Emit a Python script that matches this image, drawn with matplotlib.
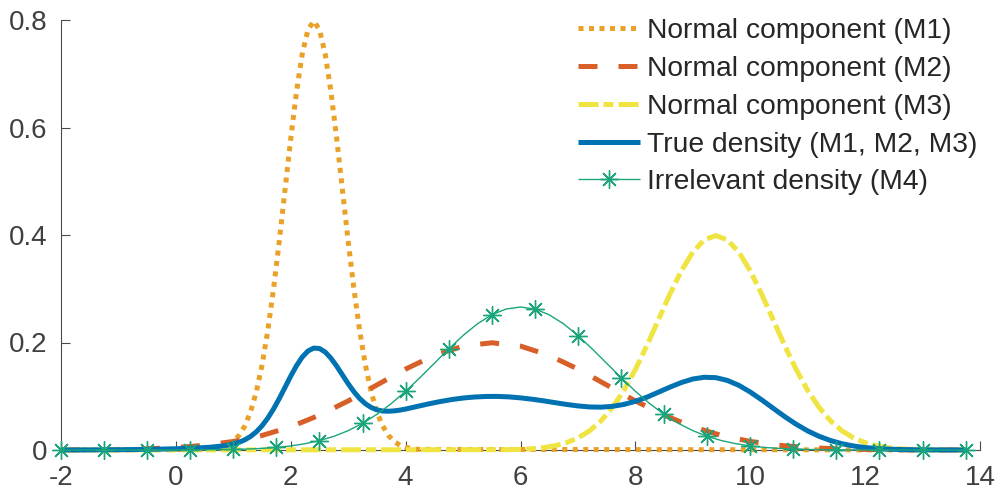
import matplotlib
matplotlib.use("Agg")
import matplotlib.pyplot as plt

# ── Data (density values) ────────────────────────────────────────────────────
# M1: narrow normal component
m1_x = [-2.0, 0.6, 0.8, 0.9, 1.0, 1.1, 1.2, 1.3, 1.4, 1.5, 1.6, 1.7, 1.8, 1.9,
        2.0, 2.1, 2.2, 2.3, 2.4, 2.5, 2.6, 2.7, 2.8, 2.9, 3.0, 3.1, 3.2, 3.3,
        3.4, 3.5, 3.6, 3.7, 3.8, 3.9, 4.0, 4.2, 13.75]
m1_y = [0.0, 0.0012, 0.0048, 0.0089, 0.0158, 0.0272, 0.0448, 0.0709, 0.1080,
        0.1579, 0.2218, 0.2995, 0.3884, 0.4839, 0.5794, 0.6665, 0.7365, 0.7821,
        0.7979, 0.7821, 0.7365, 0.6665, 0.5794, 0.4839, 0.3884, 0.2995, 0.2218,
        0.1579, 0.1080, 0.0709, 0.0448, 0.0272, 0.0158, 0.0089, 0.0048, 0.0012,
        0.0]

# M2: wide normal component
m2_x = [-2.0, -1.5, -1.0, -0.5, 0.0, 0.5, 1.0, 1.5, 2.0, 2.5, 3.0, 3.5, 4.0,
        4.5, 5.0, 5.5, 6.0, 6.5, 7.0, 7.5, 8.0, 8.5, 9.0, 9.5, 10.0, 10.5,
        11.0, 11.5, 12.0, 12.5, 13.0, 13.5, 13.75]
m2_y = [0.0002, 0.0004, 0.0010, 0.0022, 0.0045, 0.0088, 0.0159, 0.0270, 0.0431,
        0.0648, 0.0913, 0.1210, 0.1506, 0.1760, 0.1933, 0.1995, 0.1933, 0.1760,
        0.1506, 0.1210, 0.0913, 0.0648, 0.0431, 0.0270, 0.0159, 0.0088, 0.0045,
        0.0022, 0.0010, 0.0004, 0.0002, 0.0001, 0.0001]

# M3: right-hand normal component
m3_x = [-2.0, 5.8, 6.0, 6.2, 6.4, 6.6, 6.8, 7.0, 7.2, 7.4, 7.6, 7.8, 8.0, 8.2,
        8.4, 8.6, 8.8, 9.0, 9.2, 9.4, 9.6, 9.8, 10.0, 10.2, 10.4, 10.6, 10.8,
        11.0, 11.2, 11.4, 11.6, 11.8, 12.0, 12.2, 12.4, 12.6, 12.8, 13.0, 13.2,
        13.4, 13.6, 13.75]
m3_y = [0.0, 0.0006, 0.0012, 0.0024, 0.0044, 0.0079, 0.0136, 0.0224, 0.0355,
        0.0540, 0.0790, 0.1109, 0.1497, 0.1942, 0.2420, 0.2897, 0.3332, 0.3683,
        0.3910, 0.3989, 0.3910, 0.3683, 0.3332, 0.2897, 0.2420, 0.1942, 0.1497,
        0.1109, 0.0790, 0.0540, 0.0355, 0.0224, 0.0136, 0.0079, 0.0044, 0.0024,
        0.0012, 0.0006, 0.0003, 0.0001, 0.0001, 0.0]

# true mixture density
true_x = [-2.0, -1.5, -1.0, -0.5, 0.0, 0.4, 0.6,
          0.8, 0.9, 1.0, 1.1, 1.2, 1.3, 1.4, 1.5, 1.6, 1.7, 1.8, 1.9, 2.0,
          2.1, 2.2, 2.3, 2.4, 2.5, 2.6, 2.7, 2.8, 2.9, 3.0, 3.1, 3.2, 3.3,
          3.4, 3.5, 3.6, 3.7, 3.8, 3.9, 4.0,
          4.2, 4.4, 4.6, 4.8, 5.0, 5.2, 5.4, 5.6, 5.8, 6.0, 6.2, 6.4, 6.6,
          6.8, 7.0, 7.2, 7.4, 7.6, 7.8, 8.0, 8.2, 8.4, 8.6, 8.8, 9.0, 9.2,
          9.4, 9.6, 9.8, 10.0, 10.2, 10.4, 10.6, 10.8, 11.0, 11.2, 11.4, 11.6,
          11.8, 12.0, 12.2, 12.4, 12.6, 12.8, 13.0, 13.2, 13.4, 13.6, 13.75]
true_y = [0.0001, 0.0002, 0.0005, 0.0011, 0.0023, 0.0039, 0.0052,
          0.0073, 0.0089, 0.0111, 0.0143, 0.0189, 0.0252, 0.0338, 0.0451,
          0.0593, 0.0763, 0.0957, 0.1165, 0.1375, 0.1568, 0.1729, 0.1842,
          0.1896, 0.1888, 0.1822, 0.1707, 0.1560, 0.1396, 0.1233, 0.1084,
          0.0958, 0.0860, 0.0791, 0.0747, 0.0725, 0.0721, 0.0728, 0.0742,
          0.0762,
          0.0810, 0.0858, 0.0901, 0.0938, 0.0967, 0.0986, 0.0996, 0.0997,
          0.0988, 0.0970, 0.0945, 0.0915, 0.0881, 0.0848, 0.0820, 0.0801,
          0.0797, 0.0812, 0.0848, 0.0906, 0.0982, 0.1075, 0.1169, 0.1255,
          0.1321, 0.1353, 0.1346, 0.1295, 0.1204, 0.1079, 0.0932, 0.0776,
          0.0621, 0.0479, 0.0355, 0.0254, 0.0175, 0.0116, 0.0074, 0.0046,
          0.0027, 0.0016, 0.0009, 0.0005, 0.0003, 0.0002, 0.0001, 0.0001,
          0.0]

# M4: irrelevant density
m4_x = [-2.0, -1.75, -1.5, -1.25, -1.0, -0.75, -0.5, -0.25, 0.0, 0.25, 0.5,
        0.75, 1.0, 1.25, 1.5, 1.75, 2.0, 2.25, 2.5, 2.75, 3.0, 3.25, 3.5,
        3.75, 4.0, 4.25, 4.5, 4.75, 5.0, 5.25, 5.5, 5.75, 6.0, 6.25, 6.5,
        6.75, 7.0, 7.25, 7.5, 7.75, 8.0, 8.25, 8.5, 8.75, 9.0, 9.25, 9.5,
        9.75, 10.0, 10.25, 10.5, 10.75, 11.0, 11.25, 11.5, 11.75, 12.0, 12.25,
        12.5, 12.75, 13.0, 13.25, 13.5, 13.75]
m4_y = [0.0, 0.0, 0.0, 0.0, 0.0, 0.0, 0.0, 0.0, 0.0001, 0.0002, 0.0003,
        0.0006, 0.0010, 0.0018, 0.0030, 0.0048, 0.0076, 0.0117, 0.0175,
        0.0254, 0.0360, 0.0495, 0.0663, 0.0863, 0.1093, 0.1347, 0.1613,
        0.1879, 0.2130, 0.2347, 0.2516, 0.2623, 0.2660, 0.2623, 0.2516,
        0.2347, 0.2130, 0.1879, 0.1613, 0.1347, 0.1093, 0.0863, 0.0663,
        0.0495, 0.0360, 0.0254, 0.0175, 0.0117, 0.0076, 0.0048, 0.0030,
        0.0018, 0.0010, 0.0006, 0.0003, 0.0002, 0.0001, 0.0, 0.0, 0.0, 0.0,
        0.0, 0.0, 0.0]

x_ticks = [-2, 0, 2, 4, 6, 8, 10, 12, 14]
y_ticks = [0, 0.2, 0.4, 0.6, 0.8]
y_tick_labels = ["0", "0.2", "0.4", "0.6", "0.8"]

labels = ["Normal component (M1)", "Normal component (M2)",
          "Normal component (M3)", "True density (M1, M2, M3)",
          "Irrelevant density (M4)"]

# ── Style ────────────────────────────────────────────────────────────────────
plt.rcParams.update({
    "font.family": ["Liberation Sans", "DejaVu Sans"],
    "font.size": 20,
    "axes.unicode_minus": False,
})

C_M1 = "#E9A128"
C_M2 = "#D85F27"
C_M3 = "#F0E442"
C_TRUE = "#0072B2"
C_M4 = "#1AA57C"
AX_C = "#4a4a4a"
LW = 3.6

fig = plt.figure(figsize=(9.98, 4.93), dpi=100)
ax = fig.add_axes([61 / 998, 43 / 493, 919 / 998, 430 / 493])

common = dict(zorder=3, clip_on=False, solid_capstyle="butt",
              dash_capstyle="butt")
h1, = ax.plot(m1_x, m1_y, color=C_M1, lw=LW, linestyle=(0, (1.0, 1.1)),
              label=labels[0], **common)
h2, = ax.plot(m2_x, m2_y, color=C_M2, lw=LW, linestyle=(0, (3.8, 4.2)),
              label=labels[1], **common)
h3, = ax.plot(m3_x, m3_y, color=C_M3, lw=LW, linestyle=(0, (4.0, 1.0, 2.0, 1.0)),
              label=labels[2], **common)
h4, = ax.plot(true_x, true_y, color=C_TRUE, lw=LW, label=labels[3], **common)
h5, = ax.plot(m4_x, m4_y, color=C_M4, lw=1.0, marker=(8, 2, 0),
              markersize=13, markeredgewidth=1.0, markevery=3,
              label=labels[4], **common)

ax.set_xlim(-2, 14)
ax.set_ylim(0, 0.8)
ax.set_xticks(x_ticks)
ax.set_yticks(y_ticks)
ax.set_yticklabels(y_tick_labels)

for side in ("top", "right"):
    ax.spines[side].set_visible(False)
for side in ("left", "bottom"):
    ax.spines[side].set_color(AX_C)
    ax.spines[side].set_linewidth(0.8)
    ax.spines[side].set_zorder(1)
ax.tick_params(axis="both", direction="in", length=6.5, width=0.8,
               color=AX_C, labelcolor="#404040", labelsize=20)
ax.tick_params(axis="x", pad=11)
ax.tick_params(axis="y", pad=10)

ax.legend(handles=[h1, h2, h3, h4, h5], loc="upper right",
          bbox_to_anchor=(977 / 998, 475 / 493), bbox_transform=fig.transFigure,
          frameon=False, fontsize=20.3, handlelength=2.2, handletextpad=0.25,
          labelspacing=0.42, borderpad=0, borderaxespad=0, numpoints=1,
          labelcolor="#262626")

fig.savefig("out.png", dpi=100)
